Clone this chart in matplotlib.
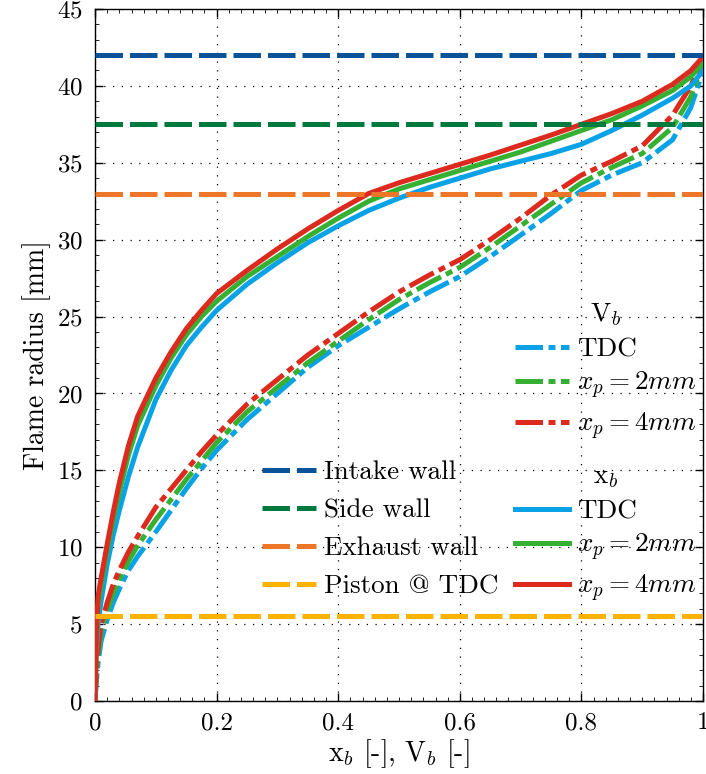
import numpy as np
import matplotlib
matplotlib.use('Agg')
import matplotlib.pyplot as plt
from matplotlib.ticker import MultipleLocator

plt.rcParams['font.family'] = ['cmr10', 'DejaVu Serif']
plt.rcParams['mathtext.fontset'] = 'cm'
plt.rcParams['axes.unicode_minus'] = False
plt.rcParams['axes.formatter.use_mathtext'] = True

# burned mass fraction / volume fraction grid
frac = np.array([0, 0.002, 0.005, 0.01, 0.02, 0.03, 0.04, 0.055, 0.07, 0.1,
                 0.125, 0.15, 0.175, 0.2, 0.25, 0.3, 0.35, 0.4, 0.45, 0.5,
                 0.55, 0.6, 0.65, 0.7, 0.75, 0.8, 0.85, 0.9, 0.95, 0.98, 1.0])

# flame radius vs x_b (solid)
xb_tdc = np.array([0, 3.2, 5.0, 6.5, 8.9, 10.8, 12.4, 14.6, 16.5, 19.6,
                   21.5, 23.1, 24.3, 25.4, 27.1, 28.5, 29.8, 30.9, 31.9, 32.7,
                   33.4, 34.0, 34.6, 35.1, 35.6, 36.2, 37.1, 38.1, 39.2, 40.0, 41.0])
xb_2mm = np.array([0, 3.8, 6.2, 7.5, 9.8, 11.8, 13.6, 16.0, 17.9, 20.5,
                   22.3, 23.8, 25.0, 26.0, 27.6, 28.9, 30.2, 31.4, 32.5, 33.3,
                   33.9, 34.5, 35.1, 35.7, 36.4, 37.1, 37.8, 38.7, 39.7, 40.6, 41.5])
xb_4mm = np.array([0, 4.3, 6.8, 8.0, 10.2, 12.3, 14.2, 16.6, 18.5, 21.0,
                   22.7, 24.2, 25.4, 26.5, 28.0, 29.4, 30.7, 31.9, 33.0, 33.7,
                   34.3, 34.9, 35.5, 36.15, 36.8, 37.5, 38.2, 39.0, 40.1, 41.0, 41.9])

# flame radius vs V_b (dash-dot)
vb_tdc = np.array([0, 1.2, 2.5, 3.9, 5.3, 6.4, 7.3, 8.5, 9.4, 11.0,
                   12.4, 13.8, 15.1, 16.3, 18.3, 20.0, 21.7, 23.1, 24.3, 25.5,
                   26.6, 27.6, 28.9, 30.3, 31.7, 33.2, 34.2, 35.0, 36.5, 38.6, 41.0])
vb_2mm = np.array([0, 1.6, 3.0, 4.5, 5.9, 7.0, 7.9, 9.1, 10.1, 11.8,
                   13.1, 14.4, 15.6, 16.8, 18.8, 20.4, 22.0, 23.4, 24.8, 26.1,
                   27.2, 28.2, 29.5, 30.9, 32.3, 33.7, 34.7, 35.6, 37.3, 39.3, 41.5])
vb_4mm = np.array([0, 2.0, 3.5, 5.0, 6.4, 7.6, 8.5, 9.7, 10.7, 12.6,
                   13.8, 15.0, 16.2, 17.3, 19.3, 20.9, 22.5, 23.9, 25.3, 26.6,
                   27.7, 28.7, 30.0, 31.4, 32.9, 34.2, 35.1, 36.1, 38.1, 40.0, 41.9])

case_labels = ['TDC', '$x_p = 2mm$', '$x_p = 4mm$']
case_colors = ['#0aa2e6', '#35b033', '#dd2a1f']

wall_names = ['Intake wall', 'Side wall', 'Exhaust wall', 'Piston @ TDC']
wall_r = [42.0, 37.5, 33.0, 5.5]
wall_colors = ['#0a5399', '#007a3d', '#ee7628', '#ffb300']

xtick_vals = [0, 0.2, 0.4, 0.6, 0.8, 1.0]
xtick_labels = ['0', '0.2', '0.4', '0.6', '0.8', '1']

fig = plt.figure(figsize=(7.06, 7.74), dpi=100)
ax = fig.add_axes([0.1346, 0.0943, 0.8612, 0.8941])

lw = 3.6
dd = (5.5, 1.1, 1.4, 1.1)

vb_lines = []
for y, c, lab in zip([vb_tdc, vb_2mm, vb_4mm], case_colors, case_labels):
    l, = ax.plot(frac, y, color=c, lw=lw, dashes=dd, label=lab, zorder=3)
    vb_lines.append(l)

xb_lines = []
for y, c, lab in zip([xb_tdc, xb_2mm, xb_4mm], case_colors, case_labels):
    l, = ax.plot(frac, y, color=c, lw=lw, label=lab, zorder=3)
    xb_lines.append(l)

wall_lines = []
for r, c, name in zip(wall_r, wall_colors, wall_names):
    l = ax.axhline(r, color=c, lw=lw, dashes=(5.5, 1.4), label=name, zorder=4)
    wall_lines.append(l)

ax.set_xlim(0, 1)
ax.set_ylim(0, 45)
ax.set_xticks(xtick_vals, xtick_labels)
ax.xaxis.set_minor_locator(MultipleLocator(0.02))
ax.yaxis.set_major_locator(MultipleLocator(5))
ax.yaxis.set_minor_locator(MultipleLocator(1))
ax.tick_params(which='both', direction='in', top=True, right=True, labelsize=18)
ax.tick_params(which='major', length=6, width=1)
ax.tick_params(which='minor', length=3, width=0.6)
ax.tick_params(axis='x', which='major', pad=8)
ax.tick_params(axis='y', which='major', pad=9)
ax.grid(True, which='major', color='black', lw=0.9, linestyle=(0, (1, 6)))
for s in ax.spines.values():
    s.set_linewidth(1.0)

ax.set_xlabel('x$_b$ [-], V$_b$ [-]', fontsize=20, labelpad=2)
ax.set_ylabel('Flame radius [mm]', fontsize=20, labelpad=4)

leg_kw = dict(frameon=False, fontsize=19.5, handlelength=2.0, handletextpad=0.3,
              borderpad=0.2, title_fontsize=19.5)

leg_w = ax.legend(handles=wall_lines, loc='center', bbox_to_anchor=(0.469, 0.248),
                  labelspacing=0.52, **leg_kw)
ax.add_artist(leg_w)
leg_v = ax.legend(handles=vb_lines, title='V$_b$', loc='center',
                  bbox_to_anchor=(0.84, 0.476), labelspacing=0.34, **leg_kw)
ax.add_artist(leg_v)
ax.legend(handles=xb_lines, title='x$_b$', loc='center',
          bbox_to_anchor=(0.84, 0.241), labelspacing=0.34, **leg_kw)

fig.savefig('out.png', dpi=100)
